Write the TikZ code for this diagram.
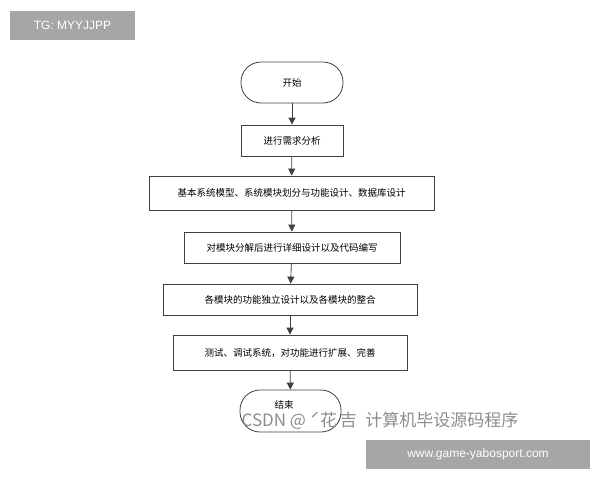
\documentclass[tikz,border=0pt]{standalone}
\usepackage{fontspec}
\setmainfont{Liberation Sans}
\newfontfamily\cjk{Noto Sans CJK SC}
\usetikzlibrary{arrows.meta}
\begin{document}
\begin{tikzpicture}[x=1pt,y=-1pt,
  box/.style={draw=black!75,line width=0.8pt,minimum height=31pt,inner xsep=4pt,font=\cjk\fontsize{9.5}{11}\selectfont},
  term/.style={box,rounded corners=20pt,minimum width=102pt,minimum height=41pt},
  arr/.style={draw=black!75,line width=0.8pt,-{Triangle[length=7pt,width=7pt]}},
  wm/.style={fill=black!35,text=white,inner sep=0pt,font=\fontsize{12}{14}\selectfont}]
\useasboundingbox (0,0) rectangle (600,480);
\node[wm,minimum width=125pt,minimum height=29pt] (tg) at (72.5,25.5) {TG: MYYJJPP};
\node[term] (s) at (292,82.5) {开始};
\node[box,minimum width=102pt] (a) at (292,140.5) {进行需求分析};
\node[box,minimum width=285pt,minimum height=34pt] (b) at (291.5,193) {基本系统模型、系统模块划分与功能设计、数据库设计};
\node[box,minimum width=216pt] (c) at (292,247.5) {对模块分解后进行详细设计以及代码编写};
\node[box,minimum width=254pt] (d) at (290,299.5) {各模块的功能独立设计以及各模块的整合};
\node[box,minimum width=234pt,minimum height=35pt] (e) at (290,352.5) {测试、调试系统，对功能进行扩展、完善};
\node[term,minimum width=101pt,minimum height=42pt] (f) at (290.5,411) {};
\node[font=\cjk\fontsize{9.5}{11}\selectfont] (ft) at (284,405) {结束};
\foreach \u/\v in {s/a,a/b,b/c,c/d,d/e,e/f} \draw[arr] (\u) -- (\v);
\node[text=black!45,font=\cjk\fontsize{17}{19}\selectfont] (cs) at (380,421) {CSDN @ ˊ花\,吉\enspace 计算机毕设源码程序};
\node[wm,minimum width=224pt,minimum height=29pt] (www) at (478,454.5) {www.game-yabosport.com};
\end{tikzpicture}
\end{document}
